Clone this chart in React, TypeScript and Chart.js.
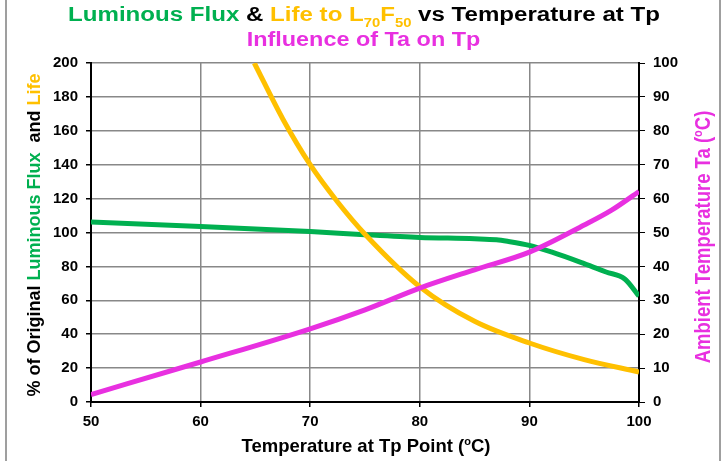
import { useEffect, useRef } from 'react';
import { Chart, registerables } from 'chart.js';

Chart.register(...registerables);

// Luminous flux (% of original) vs Tp
const fluxTemp = [50, 60, 70, 75, 80, 85, 87, 88, 90, 92, 95, 97, 98.7, 100];
const fluxValues = [106.2, 103.6, 100.6, 98.7, 97.1, 96.3, 95.7, 94.8, 92.4, 88.5, 81.6, 76.7, 72.6, 62.5];

// Life to L70F50 (% of original) vs Tp
const lifeTemp = [64.9, 67.5, 70, 72.5, 75, 80, 85, 90, 95, 100];
const lifeValues = [200, 167, 140, 118, 99, 68, 47.6, 34.8, 25, 17.7];

// Ambient temperature Ta vs Tp (right axis)
const taTemp = [50, 60, 70, 75, 80, 85, 90, 95, 97.5, 100];
const taValues = [2.2, 11.8, 21.6, 27.2, 33.6, 39, 44.2, 52.2, 56.6, 62.1];

const xTicks = [50, 60, 70, 80, 90, 100];

const GREEN = '#00B050';
const YELLOW = '#FFC000';
const MAGENTA = '#E830E0';
const FONT = "'Liberation Sans', Arial, sans-serif";

type Run = { text: string; color: string; size: number; bold?: boolean; dy?: number };

function runFont(r: Run) {
  return `${r.bold === false ? '' : 'bold '}${r.size}px ${FONT}`;
}

// draws a line of coloured text pieces centred on (0,0) of the current transform
function drawRuns(ctx: CanvasRenderingContext2D, runs: Run[]) {
  let total = 0;
  const widths = runs.map(r => {
    ctx.font = runFont(r);
    const w = ctx.measureText(r.text).width;
    total += w;
    return w;
  });
  let x = -total / 2;
  ctx.textAlign = 'left';
  ctx.textBaseline = 'alphabetic';
  runs.forEach((r, i) => {
    ctx.font = runFont(r);
    ctx.fillStyle = r.color;
    ctx.fillText(r.text, x, r.dy || 0);
    x += widths[i];
  });
}

const textPlugin = {
  id: 'texts',
  afterDraw(chart: Chart) {
    const ctx = chart.ctx;
    ctx.save();

    // outer frame (left/right edges only)
    ctx.strokeStyle = '#808080';
    ctx.lineWidth = 1.5;
    ctx.beginPath();
    ctx.moveTo(6, 0);
    ctx.lineTo(6, 461);
    ctx.moveTo(720, 0);
    ctx.lineTo(720, 461);
    ctx.stroke();

    // title line 1
    ctx.save();
    ctx.translate(364, 20.7);
    ctx.scale(1.235, 1);
    drawRuns(ctx, [
      { text: 'Luminous Flux', color: GREEN, size: 19.5 },
      { text: ' & ', color: '#000', size: 19.5 },
      { text: 'Life to L', color: YELLOW, size: 19.5 },
      { text: '70', color: YELLOW, size: 12, dy: 6.6 },
      { text: 'F', color: YELLOW, size: 19.5 },
      { text: '50', color: YELLOW, size: 12, dy: 6.6 },
      { text: ' vs Temperature at Tp', color: '#000', size: 19.5 },
    ]);
    ctx.restore();

    // title line 2
    ctx.save();
    ctx.translate(363.5, 46);
    ctx.scale(1.17, 1);
    drawRuns(ctx, [{ text: 'Influence of Ta on Tp', color: MAGENTA, size: 20 }]);
    ctx.restore();

    // x axis title
    ctx.save();
    ctx.translate(366, 451.7);
    drawRuns(ctx, [
      { text: 'Temperature at Tp Point (', color: '#000', size: 18.5 },
      { text: 'o', color: '#000', size: 11, dy: -7 },
      { text: 'C)', color: '#000', size: 18.5 },
    ]);
    ctx.restore();

    // left axis title
    ctx.save();
    ctx.translate(39.5, 235);
    ctx.rotate(-Math.PI / 2);
    ctx.scale(1, 1.06);
    drawRuns(ctx, [
      { text: '% of Original ', color: '#000', size: 18 },
      { text: 'Luminous Flux', color: GREEN, size: 18 },
      { text: '  and ', color: '#000', size: 18 },
      { text: 'Life', color: YELLOW, size: 18 },
    ]);
    ctx.restore();

    // right axis title
    ctx.save();
    ctx.translate(710, 237);
    ctx.rotate(-Math.PI / 2);
    ctx.scale(1, 1.15);
    drawRuns(ctx, [
      { text: 'Ambient Temperature Ta (', color: MAGENTA, size: 18.5 },
      { text: 'o', color: MAGENTA, size: 11, dy: -7 },
      { text: 'C)', color: MAGENTA, size: 18.5 },
    ]);
    ctx.restore();

    ctx.restore();
  },
};

const toPoints = (xs: number[], ys: number[]) => xs.map((x, i) => ({ x, y: ys[i] }));

export default function App() {
  const chartRef = useRef<HTMLCanvasElement>(null);
  const chartInstance = useRef<Chart | null>(null);

  useEffect(() => {
    document.body.style.margin = '0';
    if (!chartRef.current) return;

    if (chartInstance.current) {
      chartInstance.current.destroy();
    }

    const tickFont = { family: FONT, size: 15, weight: 'bold' as const };
    const gridStyle = { color: '#888888', lineWidth: 1.5, tickLength: 5, tickColor: '#000' };

    chartInstance.current = new Chart(chartRef.current, {
      type: 'line',
      data: {
        datasets: [
          {
            label: 'Ta',
            data: toPoints(taTemp, taValues),
            yAxisID: 'y1',
            borderColor: MAGENTA,
            borderWidth: 5,
            pointRadius: 0,
            cubicInterpolationMode: 'monotone',
          },
          {
            label: 'Life',
            data: toPoints(lifeTemp, lifeValues),
            yAxisID: 'y',
            borderColor: YELLOW,
            borderWidth: 5,
            pointRadius: 0,
            cubicInterpolationMode: 'monotone',
          },
          {
            label: 'Flux',
            data: toPoints(fluxTemp, fluxValues),
            yAxisID: 'y',
            borderColor: GREEN,
            borderWidth: 5,
            pointRadius: 0,
            cubicInterpolationMode: 'monotone',
          },
        ],
      },
      options: {
        responsive: false,
        animation: false,
        layout: { padding: { top: 63, left: 0, right: 0, bottom: 0 } },
        plugins: {
          legend: { display: false },
          tooltip: { enabled: false },
        },
        scales: {
          x: {
            type: 'linear',
            min: 50,
            max: 100,
            afterBuildTicks: (scale: any) => {
              scale.ticks = xTicks.map(v => ({ value: v }));
            },
            afterFit: (scale: any) => {
              scale.height = 59;
            },
            ticks: { font: tickFont, color: '#000', padding: 6, maxRotation: 0 },
            grid: gridStyle,
            border: { color: '#000', width: 2 },
          },
          y: {
            position: 'left',
            min: 0,
            max: 200,
            afterFit: (scale: any) => {
              scale.width = 91;
            },
            ticks: { stepSize: 20, font: tickFont, color: '#000', padding: 8 },
            grid: gridStyle,
            border: { color: '#000', width: 2 },
          },
          y1: {
            position: 'right',
            min: 0,
            max: 100,
            afterFit: (scale: any) => {
              scale.width = 84;
            },
            ticks: { stepSize: 10, font: tickFont, color: '#000', padding: 8 },
            grid: { drawOnChartArea: false, tickLength: 6, tickColor: '#000' },
            border: { color: '#000', width: 2 },
          },
        },
      },
      plugins: [textPlugin],
    });

    return () => {
      if (chartInstance.current) {
        chartInstance.current.destroy();
        chartInstance.current = null;
      }
    };
  }, []);

  return (
    <div style={{ width: 723, height: 461, background: '#fff' }}>
      <canvas ref={chartRef} width={723} height={461}></canvas>
    </div>
  );
}
